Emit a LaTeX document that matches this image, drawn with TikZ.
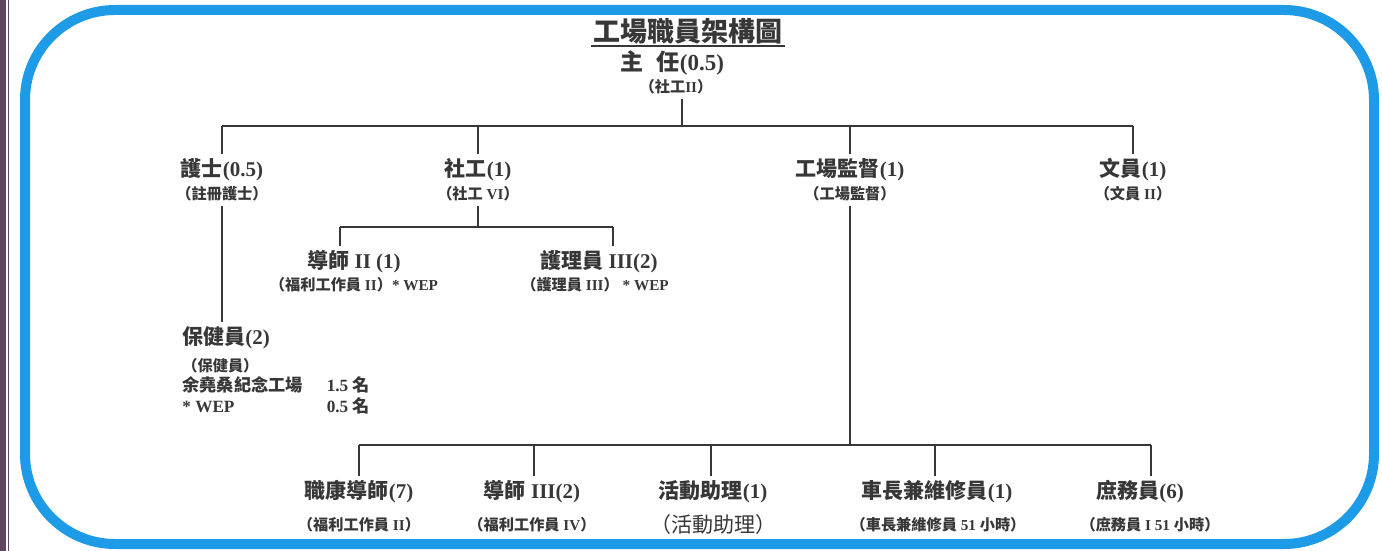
\documentclass[tikz,border=0pt]{standalone}
\usepackage{fontspec}
\setmainfont{Liberation Serif}
\newfontfamily\zhfont{Noto Sans CJK TC}
\newcommand{\zh}[1]{{\zhfont #1}}
\definecolor{framebl}{RGB}{30,155,230}
\definecolor{inkgray}{RGB}{55,55,55}
\definecolor{edgemauve}{RGB}{95,72,95}

\begin{document}
\begin{tikzpicture}[
		x=0.5pt, y=-0.5pt,
		every node/.style={inner sep=2pt, text=inkgray},
		heading/.style={font=\bfseries\fontsize{13.5}{15}\selectfont, inner sep=1pt},
		role/.style={font=\bfseries\fontsize{10.5}{12}\selectfont},
		grade/.style={font=\bfseries\fontsize{7.6}{9}\selectfont},
		link/.style={draw=inkgray, line width=1.3pt}
	]
  \useasboundingbox (0,0) rectangle (1382,551);
  \fill[edgemauve] (0,0) rectangle (6,551);
  \draw[edgemauve, line width=0.6pt] (8.5,0) -- (8.5,551);
  \draw[framebl, line width=5pt, rounded corners=45pt] (25,10) rectangle (1374,544);

  \node (title) [heading] at (688,31) {\zh{工場職員架構圖}};
  \draw[inkgray, line width=0.9pt] (title.south west) -- (title.south east);
  \node (zhuren) [role, font=\bfseries\fontsize{11.5}{13}\selectfont] at (672,63) {\zh{主\hspace{0.6em}任}(0.5)};
  \node (zhurensub) [grade] at (676,87) {\zh{（社工}II\zh{）}};

  \node (hushi) [role] at (222,170) {\zh{護士}(0.5)};
  \node (hushisub) [grade] at (222,194) {\zh{（註冊護士）}};
  \node (shegong) [role] at (478,170) {\zh{社工}(1)};
  \node (shegongsub) [grade] at (478,194) {\zh{（社工} VI\zh{）}};
  \node (jiandu) [role] at (850,170) {\zh{工場監督}(1)};
  \node (jiandusub) [grade] at (850,194) {\zh{（工場監督）}};
  \node (wenyuan) [role] at (1133,170) {\zh{文員}(1)};
  \node (wenyuansub) [grade] at (1133,194) {\zh{（文員} II\zh{）}};

  \node (daoshi) [role] at (354,262) {\zh{導師} II (1)};
  \node (daoshisub) [grade] at (354,285) {\zh{（福利工作員} II\zh{）}* WEP};
  \node (huli) [role] at (599,262) {\zh{護理員} III(2)};
  \node (hulisub) [grade] at (595,285) {\zh{（護理員} III\zh{）} * WEP};

  \node (baojian) [role, anchor=west] at (178,338) {\zh{保健員}(2)};
  \node (baojiansub) [grade, anchor=west] at (178,366) {\zh{（保健員）}};
  \node (baojianfund) [anchor=west, font=\bfseries\fontsize{8.6}{10.5}\selectfont] at (178,398)
    {\begin{tabular}{@{}l@{\hspace{12pt}}l@{}}\zh{余堯桑紀念工場} & 1.5 \zh{名}\\ \relax * WEP & 0.5 \zh{名}\end{tabular}};

  \node (zhikang) [role] at (359,492) {\zh{職康導師}(7)};
  \node (zhikangsub) [grade] at (359,525) {\zh{（福利工作員} II\zh{）}};
  \node (daoshib) [role] at (532,492) {\zh{導師} III(2)};
  \node (daoshibsub) [grade] at (532,525) {\zh{（福利工作員} IV\zh{）}};
  \node (huodong) [role] at (713,492) {\zh{活動助理}(1)};
  \node (huodongsub) [font=\fontsize{10.5}{12}\selectfont] at (713,525) {\zh{（活動助理）}};
  \node (chezhang) [role] at (937,492) {\zh{車長兼維修員}(1)};
  \node (chezhangsub) [grade] at (938,525) {\zh{（車長兼維修員} 51 \zh{小時）}};
  \node (shuwu) [role] at (1140,492) {\zh{庶務員}(6)};
  \node (shuwusub) [grade] at (1150,525) {\zh{（庶務員} I 51 \zh{小時）}};

  \coordinate (topm) at (682,126);
  \coordinate (top1) at (222,126);
  \coordinate (top2) at (478,126);
  \coordinate (top3) at (850,126);
  \coordinate (top4) at (1133,126);
  \coordinate (mid) at (478,227);
  \coordinate (midl) at (340,227);
  \coordinate (midr) at (613,227);
  \coordinate (low) at (850,445);
  \coordinate (low1) at (359,445);
  \coordinate (low2) at (534,445);
  \coordinate (low3) at (711,445);
  \coordinate (low4) at (935,445);
  \coordinate (low5) at (1151,445);

  \draw[link] (zhurensub.south -| topm) -- (topm);
  \draw[link] (top1) -- (top4);
  \draw[link] (top1) -- (top1 |- hushi.north);
  \draw[link] (top2) -- (top2 |- shegong.north);
  \draw[link] (top3) -- (top3 |- jiandu.north);
  \draw[link] (top4) -- (top4 |- wenyuan.north);
  \draw[link] (hushisub.south) -- (hushisub.south |- baojian.north);
  \draw[link] (shegongsub.south) -- (mid);
  \draw[link] (midl) -- (midr);
  \draw[link] (midl) -- (midl |- daoshi.north);
  \draw[link] (midr) -- (midr |- huli.north);
  \draw[link] (jiandusub.south) -- (low);
  \draw[link] (low1) -- (low5);
  \draw[link] (low1) -- (low1 |- zhikang.north);
  \draw[link] (low2) -- (low2 |- daoshib.north);
  \draw[link] (low3) -- (low3 |- huodong.north);
  \draw[link] (low4) -- (low4 |- chezhang.north);
  \draw[link] (low5) -- (low5 |- shuwu.north);
\end{tikzpicture}
\end{document}
